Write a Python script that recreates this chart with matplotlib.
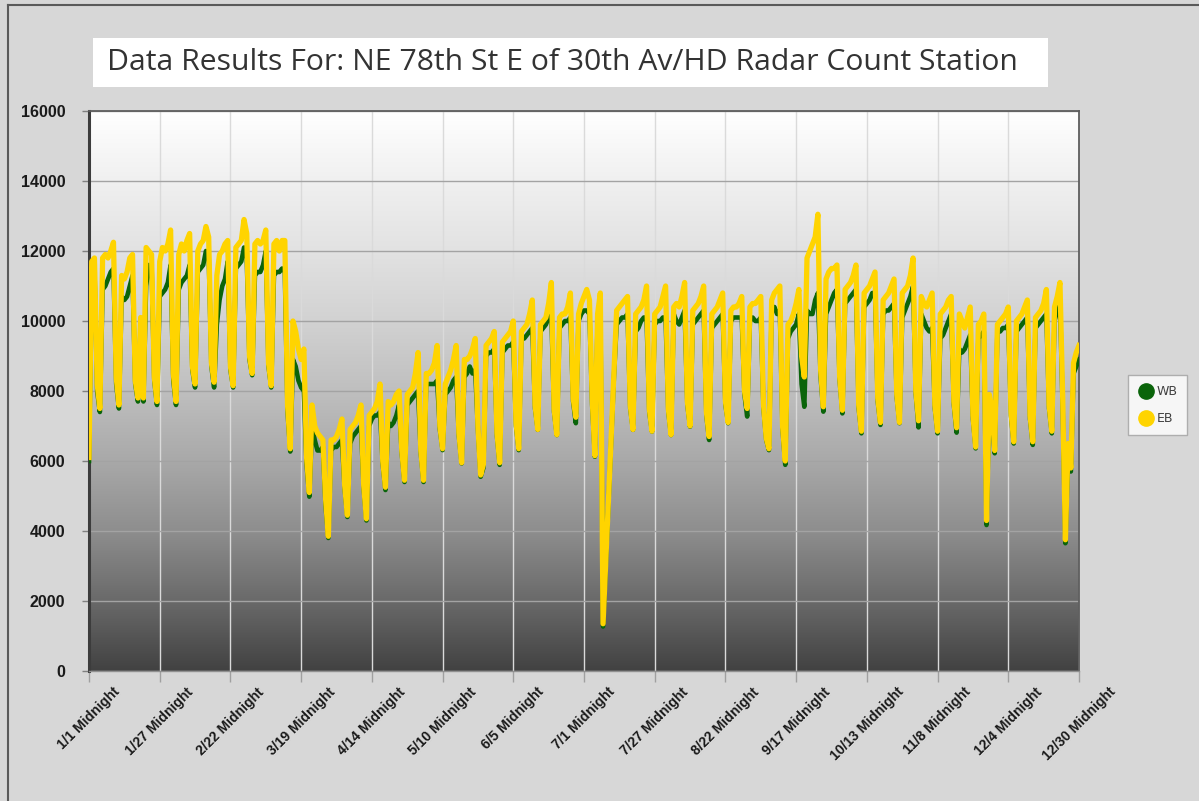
import numpy as np
import matplotlib.pyplot as plt
from matplotlib.colors import LinearSegmentedColormap
from matplotlib.lines import Line2D
from matplotlib.patches import Rectangle

title = "Data Results For: NE 78th St E of 30th Av/HD Radar Count Station"

tick_days = [0, 26, 52, 78, 104, 130, 156, 182, 208, 234, 260, 286, 312, 338, 364]
tick_labels = ["1/1 Midnight", "1/27 Midnight", "2/22 Midnight", "3/19 Midnight",
               "4/14 Midnight", "5/10 Midnight", "6/5 Midnight", "7/1 Midnight",
               "7/27 Midnight", "8/22 Midnight", "9/17 Midnight", "10/13 Midnight",
               "11/8 Midnight", "12/4 Midnight", "12/30 Midnight"]
y_ticks = [0, 2000, 4000, 6000, 8000, 10000, 12000, 14000, 16000]

# daily counts from 1/1 (Wed) to 12/30, one line per week (Mon..Sun)
wb_counts = [
    6000, 11400, 11500, 8000, 7400,
    10900, 11000, 11200, 11400, 11500, 8200, 7500,
    10700, 10600, 10700, 11000, 11300, 8200, 7700,
    9900, 7700, 11000, 11600, 11600, 8300, 7600,
    10700, 10800, 10900, 11100, 11600, 8300, 7600,
    10900, 11100, 11200, 11300, 11600, 8600, 8100,
    11400, 11500, 11600, 12000, 11900, 8700, 8100,
    9900, 10600, 11000, 11200, 11700, 8600, 8100,
    11500, 11600, 11700, 12100, 11800, 8900, 8450,
    11300, 11400, 11400, 11600, 12000, 8700, 8100,
    11300, 11400, 11400, 11500, 11400, 7400, 6270,
    8900, 8700, 8300, 8100, 8000, 5900, 4980,
    7000, 6600, 6300, 6300, 6400, 4700, 3800,
    6300, 6400, 6400, 6500, 6600, 5200, 4400,
    6500, 6700, 6800, 6900, 7000, 5200, 4300,
    7000, 7200, 7300, 7300, 7400, 5900, 5170,
    7100, 7000, 7100, 7300, 7600, 6200, 5400,
    7600, 7700, 7800, 7900, 8000, 6200, 5400,
    8200, 8200, 8200, 8200, 8300, 6900, 6310,
    7900, 8000, 8100, 8300, 8400, 6700, 5930,
    8400, 8500, 8700, 8500, 8600, 6900, 5550,
    5800, 9000, 9100, 9100, 9200, 6700, 5890,
    9100, 9200, 9300, 9300, 9400, 7000, 6310,
    9500, 9500, 9600, 9700, 9800, 7500, 6890,
    9700, 9800, 9900, 10100, 10200, 7400, 6740,
    9800, 9900, 10000, 10000, 10100, 7700, 7080,
    10000, 10200, 10300, 10300, 10200, 7600, 6120,
    10000, 10500, 1270, 3000, 4800, 6600, 8400,
    9900, 10000, 10100, 10100, 10200, 7500, 6890,
    9700, 9800, 10000, 10100, 10100, 7400, 6840,
    9900, 10000, 10000, 10100, 10100, 7400, 6740,
    10200, 10000, 9900, 10100, 10300, 7600, 6980,
    9900, 10000, 10100, 10200, 10300, 7300, 6600,
    9800, 9900, 10000, 10100, 10200, 7600, 7080,
    10000, 10100, 10100, 10100, 10100, 7900, 7270,
    10000, 10100, 10000, 10000, 10100, 7500, 6600,
    6310, 10300, 10400, 10200, 10300, 6900, 5890,
    9500, 9700, 9800, 9900, 10200, 8200, 7550,
    10300, 10200, 10200, 10600, 10800, 8400, 7410,
    10200, 10400, 10600, 10800, 10900, 8300, 7360,
    10500, 10600, 10700, 10800, 10900, 7500, 6790,
    10400, 10500, 10600, 10800, 10800, 7700, 7030,
    10200, 10300, 10300, 10400, 10500, 7800, 7080,
    10100, 10300, 10500, 10700, 11000, 7900, 6960,
    10200, 10000, 9800, 9700, 9800, 7500, 6790,
    9500, 9600, 9800, 10000, 10200, 7600, 6810,
    9200, 9100, 9200, 9400, 9600, 7200, 6360,
    9500, 9600, 9700, 4170, 7700, 7200, 6220,
    9700, 9700, 9800, 9800, 9900, 7300, 6500,
    9700, 9800, 9900, 10000, 10100, 7200, 6460,
    9800, 9900, 10000, 10100, 10200, 7500, 6790,
    10000, 10300, 10600, 7500, 3650, 6200, 5700,
    8500, 8700, 8900,
]

eb_counts = [
    6100, 11700, 11800, 8200, 7500,
    11800, 11900, 11800, 12000, 12250, 8400, 7600,
    11300, 11200, 11400, 11800, 11900, 8300, 7800,
    10100, 7800, 12100, 12000, 11900, 8400, 7700,
    11700, 12100, 12000, 12200, 12600, 8500, 7700,
    11900, 12200, 12000, 12300, 12500, 8700, 8200,
    12000, 12200, 12300, 12700, 12400, 8800, 8250,
    11300, 11900, 12000, 12200, 12300, 8700, 8150,
    12100, 12200, 12300, 12900, 12500, 9000, 8500,
    12200, 12300, 12200, 12300, 12600, 8800, 8150,
    12200, 12300, 12000, 12300, 12300, 7600, 6350,
    10000, 9700, 9200, 8900, 9200, 6100, 5100,
    7600, 7000, 6800, 6700, 6600, 4900, 3850,
    6600, 6600, 6700, 6900, 7200, 5300, 4450,
    6900, 7000, 7100, 7300, 7600, 5300, 4350,
    7300, 7400, 7500, 7700, 8200, 6000, 5250,
    7700, 7600, 7700, 7900, 8000, 6300, 5450,
    7900, 8000, 8100, 8500, 9100, 6300, 5450,
    8500, 8500, 8600, 8800, 9300, 7000, 6350,
    8200, 8400, 8600, 8900, 9300, 6800, 5950,
    8900, 8900, 9000, 9200, 9500, 7000, 5600,
    5900, 9300, 9400, 9500, 9700, 6800, 5950,
    9400, 9500, 9600, 9700, 10000, 7100, 6350,
    9700, 9800, 9900, 10200, 10600, 7600, 6900,
    9900, 10000, 10100, 10500, 11100, 7500, 6750,
    10100, 10200, 10200, 10400, 10800, 7800, 7250,
    10200, 10500, 10700, 10900, 10600, 7800, 6150,
    10200, 10800, 1350, 3100, 4900, 6700, 8500,
    10300, 10400, 10500, 10600, 10700, 7600, 6900,
    10200, 10300, 10400, 10600, 11000, 7500, 6850,
    10200, 10300, 10400, 10700, 11000, 7500, 6750,
    10400, 10500, 10400, 10700, 11100, 7700, 7000,
    10300, 10400, 10500, 10700, 11000, 7400, 6700,
    10200, 10300, 10400, 10600, 10800, 7700, 7100,
    10300, 10400, 10400, 10500, 10700, 8000, 7500,
    10400, 10500, 10500, 10600, 10700, 7600, 6650,
    6350, 10600, 10800, 10900, 11000, 7000, 6000,
    9900, 10000, 10200, 10500, 10900, 9000, 8400,
    11800, 12000, 12200, 12400, 13050, 8600, 7550,
    11200, 11400, 11500, 11500, 11600, 8400, 7450,
    10900, 11000, 11100, 11300, 11600, 7600, 6850,
    10800, 10900, 11000, 11200, 11400, 7800, 7100,
    10600, 10700, 10800, 11000, 11200, 7900, 7100,
    10800, 10900, 11000, 11300, 11800, 8000, 7150,
    10700, 10500, 10400, 10600, 10800, 7600, 6850,
    10200, 10300, 10400, 10600, 10700, 7700, 6950,
    10200, 10000, 9800, 10100, 10400, 7300, 6400,
    9900, 10000, 10200, 4300, 7900, 7500, 6300,
    9900, 10000, 10100, 10200, 10400, 7400, 6550,
    10000, 10100, 10200, 10400, 10600, 7300, 6550,
    10100, 10200, 10300, 10500, 10900, 7600, 6850,
    10400, 10700, 11100, 7800, 3750, 6500, 5800,
    8800, 9100, 9300,
]

W, H = 1199, 801
fig = plt.figure(figsize=(W / 100, H / 100), dpi=100, facecolor='#d7d7d7')

# outer frame (only top and left edges show in the picture)
fig.add_artist(Line2D([8 / W, 8 / W], [0, 796 / H], transform=fig.transFigure,
                      color='#5a5a5a', lw=1.5))
fig.add_artist(Line2D([8 / W, 1], [796 / H, 796 / H], transform=fig.transFigure,
                      color='#5a5a5a', lw=1.5))

ax = fig.add_axes([89 / W, 130 / H, 990 / W, 560 / H])

# vertical grey gradient behind the plot
cmap = LinearSegmentedColormap.from_list('bg', [
    (0.0, '#424242'), (0.125, '#6a6a6a'), (0.25, '#8e8e8e'), (0.375, '#a9a9a9'),
    (0.5, '#bfbfbf'), (0.625, '#d2d2d2'), (0.75, '#e2e2e2'), (0.875, '#f0f0f0'),
    (1.0, '#ffffff')])
ax.imshow(np.linspace(0, 1, 256).reshape(-1, 1), extent=[0, 364, 0, 16000],
          origin='lower', aspect='auto', cmap=cmap, zorder=0)

days = np.arange(len(eb_counts))
ax.plot(days, wb_counts, color='#0a640a', lw=3.3, solid_joinstyle='round', zorder=3)
ax.plot(days, eb_counts, color='#ffd400', lw=3.8, solid_joinstyle='round', zorder=4)

ax.set_xlim(0, 364)
ax.set_ylim(0, 16000)
ax.set_axisbelow(True)
ax.yaxis.grid(True, color='#a3a3a3', lw=1)
ax.xaxis.grid(True, color='#dadada', lw=1)

ax.set_yticks(y_ticks)
ax.set_yticklabels([str(v) for v in y_ticks], fontsize=11.5, fontweight='bold',
                   family='Liberation Sans', color='#1a1a1a')
ax.set_xticks(tick_days)
ax.set_xticklabels(tick_labels, rotation=45, fontsize=10, fontweight='bold',
                   family='Liberation Sans', color='#1a1a1a')
ax.tick_params(axis='y', direction='out', length=5, width=1, color='#808080', pad=12)
ax.tick_params(axis='x', direction='out', length=8, width=1, color='#a0a0a0', pad=2)

ax.spines['left'].set_color('#3c3c3c')
ax.spines['left'].set_linewidth(2.2)
ax.spines['top'].set_color('#5e5e5e')
ax.spines['top'].set_linewidth(1.3)
ax.spines['right'].set_color('#5e5e5e')
ax.spines['right'].set_linewidth(1.3)
ax.spines['bottom'].set_color('#909090')
ax.spines['bottom'].set_linewidth(1)

# title in a white box
fig.add_artist(Rectangle((93 / W, (H - 87) / H), (1048 - 93) / W, 49 / H,
                         transform=fig.transFigure, facecolor='white',
                         edgecolor='none'))
fig.text(107 / W, (H - 63) / H, title, fontsize=21.7, family='Open Sans',
         color='#333333', ha='left', va='center')

handles = [Line2D([], [], marker='o', ls='', color='#0a640a', markersize=11),
           Line2D([], [], marker='o', ls='', color='#ffd400', markersize=11)]
leg = fig.legend(handles, ['WB', 'EB'], loc='center',
                 bbox_to_anchor=(1157.5 / W, (H - 405) / H), frameon=True,
                 fancybox=False, edgecolor='#a0a0a0',
                 labelspacing=1.1, handletextpad=0.2, borderpad=0.8,
                 handlelength=1.3, prop={'family': 'DejaVu Sans', 'size': 9})
leg.get_frame().set_linewidth(1)
for t in leg.get_texts():
    t.set_color('#404040')

fig.savefig('out.png', dpi=100, facecolor=fig.get_facecolor())
